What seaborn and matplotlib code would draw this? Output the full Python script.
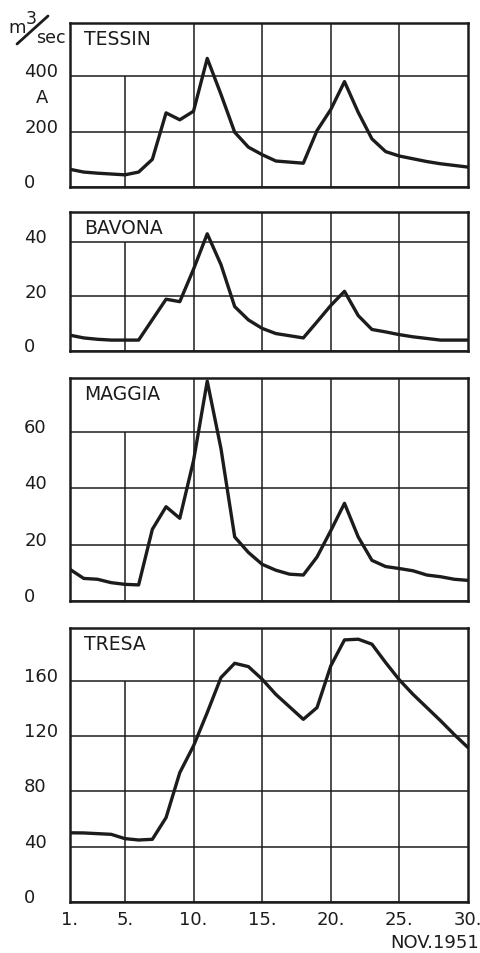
import numpy as np
import pandas as pd
import seaborn as sns
import matplotlib.pyplot as plt
from matplotlib.lines import Line2D
from matplotlib.transforms import ScaledTranslation

days = list(range(1, 31))

tessin = [64, 54, 50, 47, 44, 54, 100, 268, 243, 274, 465, 335, 198, 144, 117,
          94, 90, 86, 204, 280, 381, 270, 174, 128, 112, 102, 92, 84, 78, 72]
bavona = [5.8, 4.8, 4.3, 4.0, 4.0, 4.0, 11.5, 19.0, 18.1, 30.0, 43.0, 31.7, 16.3, 11.4, 8.3,
          6.4, 5.6, 4.8, 10.7, 16.7, 21.9, 13.0, 7.9, 7.0, 6.0, 5.2, 4.6, 4.0, 4.0, 4.0]
maggia = [11.2, 8.0, 7.7, 6.5, 5.9, 5.7, 25.4, 33.4, 29.3, 49.7, 77.9, 54.0, 22.7, 17.2, 13.0,
          10.9, 9.5, 9.2, 15.6, 24.9, 34.6, 22.7, 14.4, 12.2, 11.5, 10.7, 9.2, 8.6, 7.7, 7.3]
tresa = [50, 49.9, 49.4, 48.9, 45.8, 44.8, 45.3, 61, 93.5, 112.8, 136.9, 162.2, 172.5, 170.1, 161,
         150, 141, 132, 140.5, 170.6, 189.4, 189.9, 186.3, 173, 160.5, 150, 140.5, 131, 121, 111.6]

names = ["TESSIN", "BAVONA", "MAGGIA", "TRESA"]
series = [tessin, bavona, maggia, tresa]
yticks = [[0, 200, 400], [0, 20, 40], [0, 20, 40, 60], [0, 40, 80, 120, 160]]
ytop = [593, 51, 79, 198]

xticks = [1, 5, 10, 15, 20, 25, 30]
xlabels = ["1.", "5.", "10.", "15.", "20.", "25.", "30."]

sns.set_style("white")
plt.rcParams['font.family'] = ['DejaVu Sans']

W, H = 481, 954
fig = plt.figure(figsize=(W / 100, H / 100), dpi=100)

# panel frames in pixels: (top, bottom)
frames = [(24, 188), (213, 352), (379, 602), (629, 903)]
left, right = 70, 468
ink = "#1c1c1c"

for i, (name, vals) in enumerate(zip(names, series)):
    top, bot = frames[i]
    ax = fig.add_axes([left / W, 1 - bot / H, (right - left) / W, (bot - top) / H])
    df = pd.DataFrame({"day": days, "q": vals})
    sns.lineplot(data=df, x="day", y="q", ax=ax, color=ink, lw=2.4)
    ax.set_xlim(1, 30)
    ax.set_ylim(0, ytop[i])
    ax.set_xlabel("")
    ax.set_ylabel("")

    # grid
    ax.set_yticks(yticks[i], [str(t) for t in yticks[i]])
    ax.yaxis.grid(True, color=ink, lw=1.1)
    ax.vlines([10, 15, 20, 25], 0, ytop[i], color=ink, lw=1.1)
    ax.vlines(5, 0, yticks[i][-1], color=ink, lw=1.1)
    for s in ax.spines.values():
        s.set_color(ink)
        s.set_linewidth(1.8)

    ax.tick_params(axis='y', length=0, pad=33, labelsize=13, colors=ink)
    for lab in ax.get_yticklabels():
        lab.set_ha('left')
        lab.set_transform(lab.get_transform() + ScaledTranslation(0, 5 / 72, fig.dpi_scale_trans))

    if i == 3:
        ax.set_xticks(xticks, xlabels)
        ax.tick_params(axis='x', length=0, pad=6, labelsize=13, colors=ink)
    else:
        ax.set_xticks([])

    ax.annotate(name, xy=(0, 1), xycoords='axes fraction', xytext=(10, -11),
                textcoords='offset points', ha='left', va='center',
                fontsize=13.5, color=ink)

# unit label and extra marks on the first panel
fig.text(17 / W, 1 - 28 / H, "m", ha='center', va='center', fontsize=13, color=ink)
fig.text(31 / W, 1 - 19 / H, "3", ha='center', va='center', fontsize=12.5, color=ink)
fig.text(51 / W, 1 - 38 / H, "sec", ha='center', va='center', fontsize=12.5, color=ink)
fig.add_artist(Line2D([17 / W, 48 / W], [1 - 45 / H, 1 - 17 / H], color=ink, lw=2))
fig.text(42 / W, 1 - 98 / H, "A", ha='center', va='center', fontsize=13, color=ink)

fig.text(479 / W, 1 - 943 / H, "NOV.1951", ha='right', va='center',
         fontsize=13, color=ink)

fig.savefig("out.png", dpi=100, facecolor="white")
